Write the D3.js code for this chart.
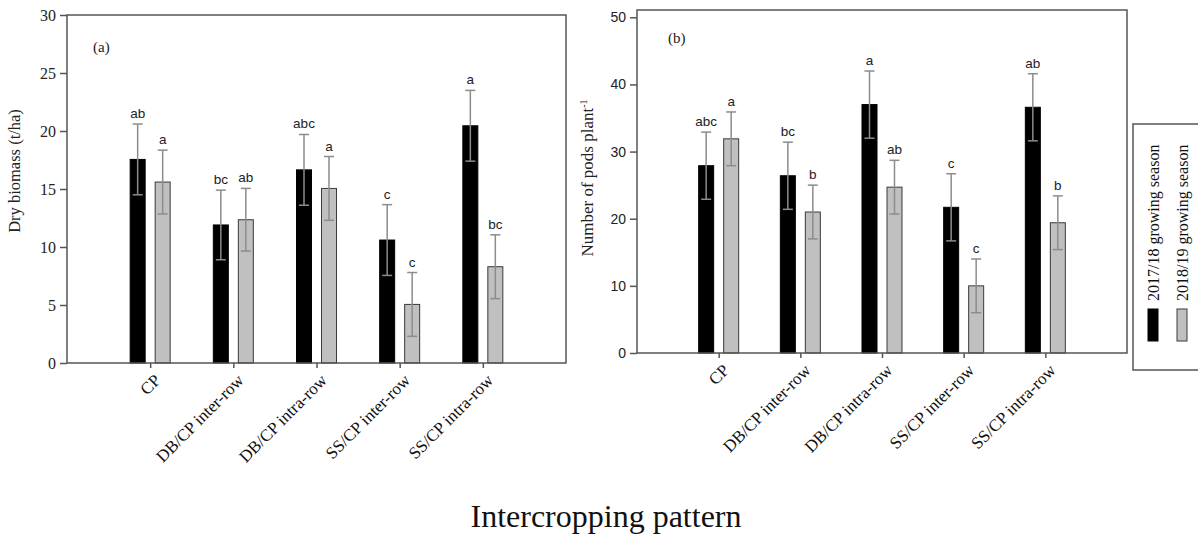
<!DOCTYPE html>
<html>
<head>
<meta charset="utf-8">
<script src="https://cdn.jsdelivr.net/npm/d3@7/dist/d3.min.js"></script>
<style>
  html, body { margin: 0; padding: 0; background: #fff; }
  svg { display: block; }
</style>
</head>
<body>
<svg id="chart" width="1198" height="538"></svg>
<script>
// ---------------- DATA ----------------
const categories = ["CP", "DB/CP inter-row", "DB/CP intra-row", "SS/CP inter-row", "SS/CP intra-row"];
const seriesNames = ["2017/18 growing season", "2018/19 growing season"];

const biomass2017 = [17.55, 11.9, 16.65, 10.6, 20.45];
const biomass2017Err = [3.05, 3.0, 3.05, 3.05, 3.05];
const biomass2018 = [15.6, 12.35, 15.05, 5.05, 8.3];
const biomass2018Err = [2.75, 2.7, 2.75, 2.75, 2.75];
const biomassLetters2017 = ["ab", "bc", "abc", "c", "a"];
const biomassLetters2018 = ["a", "ab", "a", "c", "bc"];
const biomassTicks = [0, 5, 10, 15, 20, 25, 30];

const pods2017 = [27.9, 26.4, 37.0, 21.7, 36.6];
const pods2017Err = [5.0, 5.0, 5.0, 5.0, 5.0];
const pods2018 = [31.9, 21.0, 24.7, 10.0, 19.4];
const pods2018Err = [4.0, 4.0, 4.0, 4.0, 4.0];
const podsLetters2017 = ["abc", "bc", "a", "c", "ab"];
const podsLetters2018 = ["a", "b", "ab", "c", "b"];
const podsTicks = [0, 10, 20, 30, 40, 50];

const xTitle = "Intercropping pattern";

// ---------------- DRAW ----------------
const svg = d3.select("#chart");
const serif = "'Liberation Serif', 'Times New Roman', serif";
const sans = "'Liberation Sans', Arial, sans-serif";
const frameColor = "#555";
const errColor = "#8c8c8c";
const fills = ["#000000", "#c0c0c0"];

function panel(opt) {
  const g = svg.append("g");
  const x = d3.scalePoint().domain(categories).range([opt.x0, opt.x1]).padding(1);
  const y = d3.scaleLinear().domain([0, opt.yMax]).range([opt.yBottom, opt.yTop]);
  const barW = 15, off = 12.5, capW = 10;

  const series = [
    { vals: opt.s1, err: opt.e1, letters: opt.l1, fill: fills[0], dx: -off },
    { vals: opt.s2, err: opt.e2, letters: opt.l2, fill: fills[1], dx: off }
  ];

  // bars
  series.forEach(s => {
    g.selectAll(null).data(categories).enter().append("rect")
      .attr("x", (c) => x(c) + s.dx - barW / 2)
      .attr("y", (c, i) => y(s.vals[i]))
      .attr("width", barW)
      .attr("height", (c, i) => y(0) - y(s.vals[i]))
      .attr("fill", s.fill)
      .attr("stroke", s.fill === "#000000" ? "#000" : "#3a3a3a")
      .attr("stroke-width", 1);
  });

  // error bars + letters
  series.forEach(s => {
    categories.forEach((c, i) => {
      const cx = x(c) + s.dx;
      const top = y(s.vals[i] + s.err[i]);
      const bot = y(s.vals[i] - s.err[i]);
      g.append("line").attr("x1", cx).attr("x2", cx).attr("y1", top).attr("y2", bot)
        .attr("stroke", errColor).attr("stroke-width", 1.5);
      [top, bot].forEach(yy => {
        g.append("line").attr("x1", cx - capW / 2).attr("x2", cx + capW / 2)
          .attr("y1", yy).attr("y2", yy)
          .attr("stroke", errColor).attr("stroke-width", 1.5);
      });
      g.append("text").attr("x", cx).attr("y", top - 6)
        .attr("text-anchor", "middle")
        .attr("font-family", sans).attr("font-size", 13.5)
        .attr("fill", "#222")
        .text(s.letters[i]);
    });
  });

  // frame
  g.append("rect").attr("x", opt.x0).attr("y", opt.frameTop)
    .attr("width", opt.x1 - opt.x0).attr("height", opt.yBottom - opt.frameTop)
    .attr("fill", "none").attr("stroke", frameColor).attr("stroke-width", 1.5);

  // y axis
  const yAxis = d3.axisLeft(y).tickValues(opt.ticks).tickSize(7).tickPadding(4);
  const ya = g.append("g").attr("transform", `translate(${opt.x0},0)`).call(yAxis);
  ya.select(".domain").remove();
  ya.selectAll(".tick line").attr("stroke", frameColor).attr("stroke-width", 1.5);
  ya.selectAll(".tick text").attr("font-family", opt.tickFont).attr("font-size", opt.tickSize).attr("fill", "#222");

  // x axis
  const xAxis = d3.axisBottom(x).tickSize(5).tickFormat("");
  const xa = g.append("g").attr("transform", `translate(0,${opt.yBottom})`).call(xAxis);
  xa.select(".domain").remove();
  xa.selectAll(".tick line").attr("stroke", frameColor).attr("stroke-width", 1.5);
  categories.forEach(c => {
    g.append("text")
      .attr("transform", `translate(${x(c) + 3},${opt.yBottom + 10}) rotate(-45)`)
      .attr("text-anchor", "end")
      .attr("dy", "0.7em")
      .attr("font-family", serif).attr("font-size", 17).attr("fill", "#111")
      .text(c);
  });

  // panel label
  g.append("text").attr("x", opt.x0 + opt.tagDx).attr("y", opt.tagY)
    .attr("font-family", serif).attr("font-size", 15).attr("fill", "#222").text(opt.tag);

  // y title
  const yt = g.append("text")
    .attr("transform", `translate(${opt.yTitleX},${opt.yTitleY}) rotate(-90)`)
    .attr("text-anchor", "middle")
    .attr("font-family", serif).attr("font-size", opt.yTitleSize).attr("fill", "#222");
  yt.append("tspan").text(opt.yTitle);
  if (opt.yTitleSup) {
    yt.append("tspan").attr("dy", -6).attr("font-size", 10).text(opt.yTitleSup);
  }
}

panel({
  x0: 67, x1: 566, yTop: 15, frameTop: 15, yBottom: 363, yMax: 30,
  s1: biomass2017, e1: biomass2017Err, l1: biomassLetters2017,
  s2: biomass2018, e2: biomass2018Err, l2: biomassLetters2018,
  ticks: biomassTicks, tickFont: serif, tickSize: 16,
  tag: "(a)", tagDx: 26, tagY: 52,
  yTitle: "Dry biomass (t/ha)", yTitleX: 20, yTitleY: 171, yTitleSize: 16.5
});

panel({
  x0: 637, x1: 1127, yTop: 17.3, frameTop: 10, yBottom: 353, yMax: 50,
  s1: pods2017, e1: pods2017Err, l1: podsLetters2017,
  s2: pods2018, e2: pods2018Err, l2: podsLetters2018,
  ticks: podsTicks, tickFont: sans, tickSize: 14,
  tag: "(b)", tagDx: 31, tagY: 43,
  yTitle: "Number of pods plant", yTitleSup: "-1", yTitleX: 593, yTitleY: 178, yTitleSize: 17
});

// legend
const lg = svg.append("g");
lg.append("rect").attr("x", 1133).attr("y", 124).attr("width", 80).attr("height", 246)
  .attr("fill", "#fff").attr("stroke", frameColor).attr("stroke-width", 1.5);
const legX = [1153, 1182];
seriesNames.forEach((name, i) => {
  lg.append("rect").attr("x", legX[i] - 5).attr("y", 309).attr("width", 10).attr("height", 32)
    .attr("fill", fills[i]).attr("stroke", i === 0 ? "#000" : "#3a3a3a").attr("stroke-width", 1);
  lg.append("text")
    .attr("transform", `translate(${legX[i] + 5.5},${301}) rotate(-90)`)
    .attr("text-anchor", "start")
    .attr("font-family", serif).attr("font-size", 16).attr("fill", "#111")
    .text(name);
});

// x title
svg.append("text").attr("x", 606).attr("y", 527).attr("text-anchor", "middle")
  .attr("font-family", serif).attr("font-size", 32).attr("fill", "#111").text(xTitle);
</script>
</body>
</html>
